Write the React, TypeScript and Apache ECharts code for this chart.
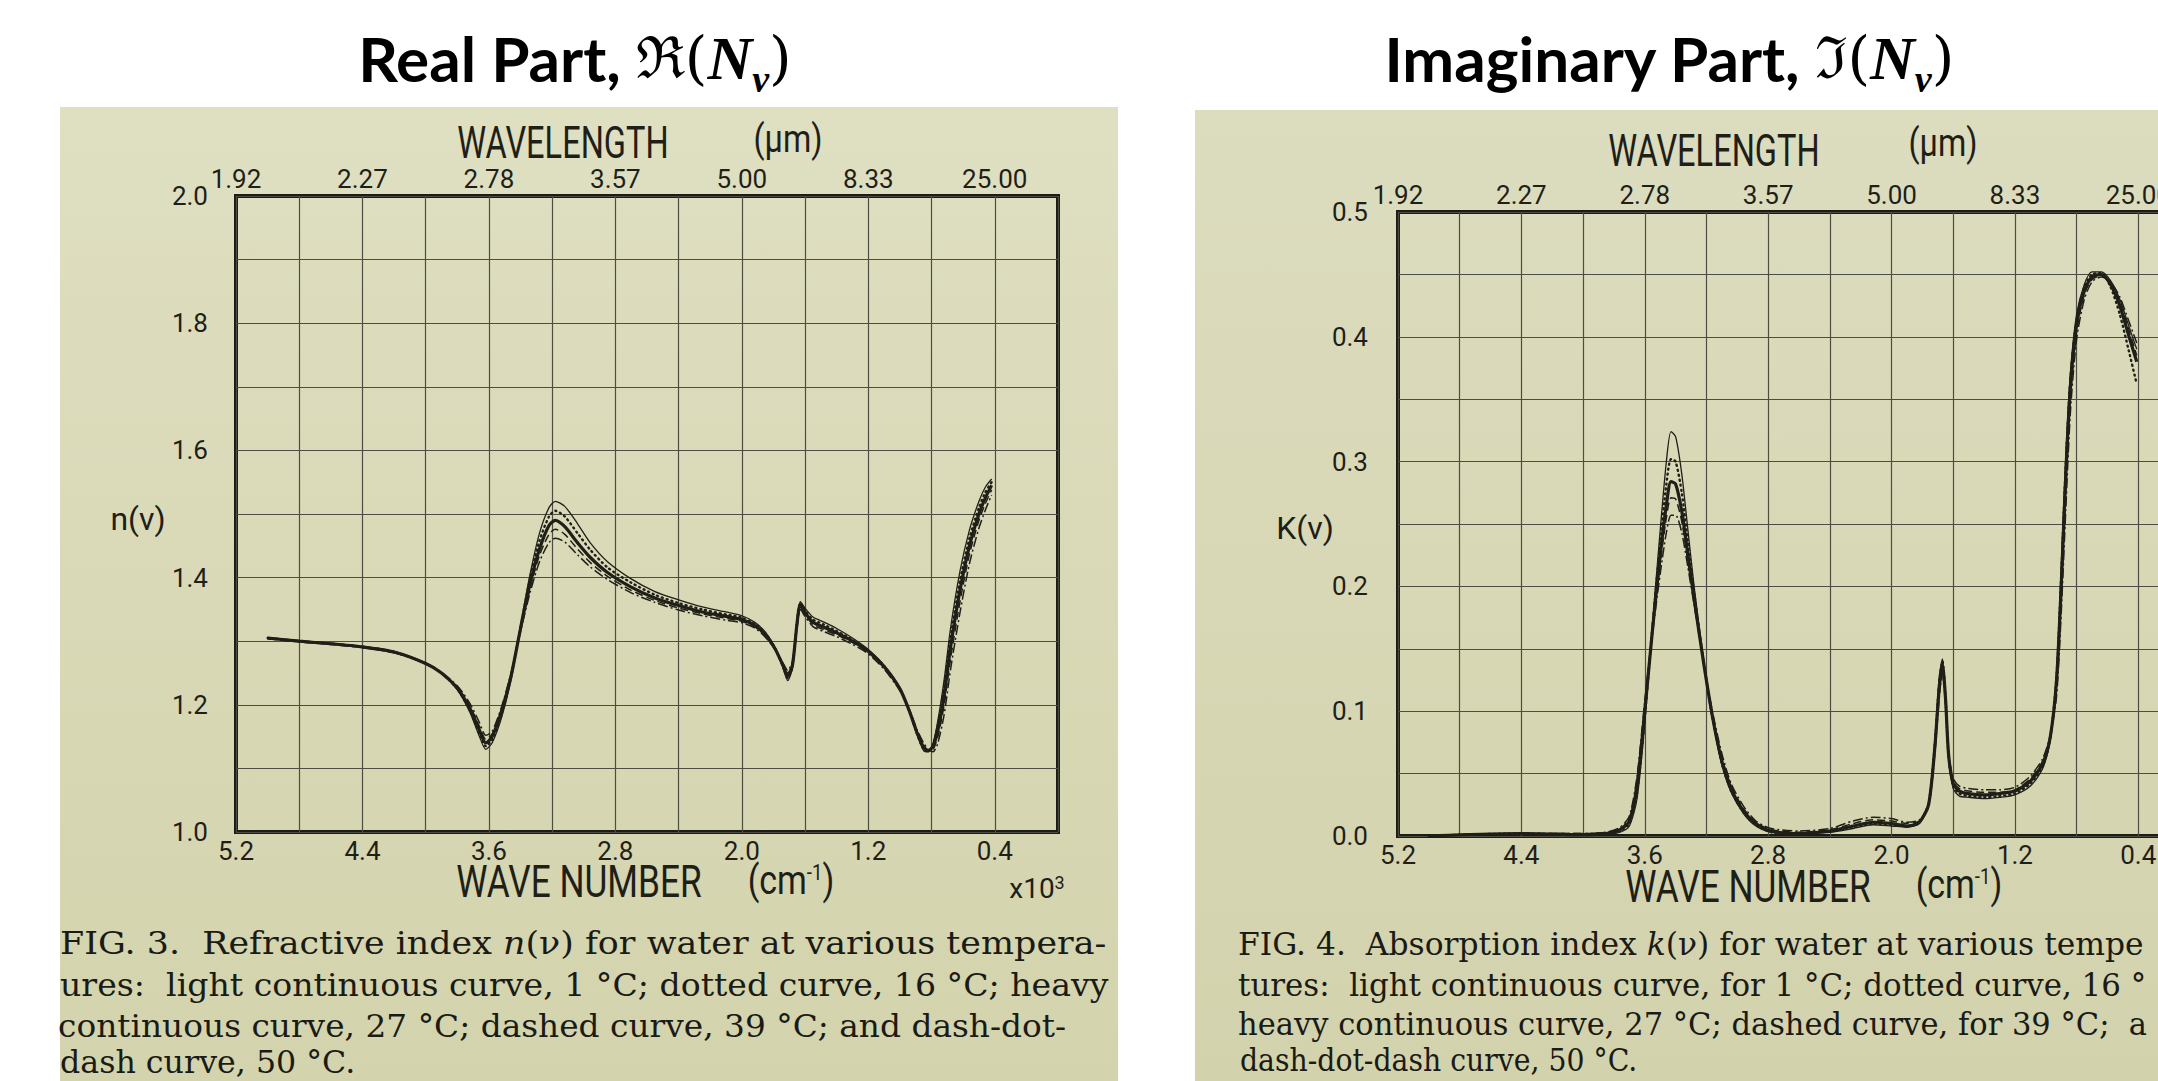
import React, { useEffect, useRef } from "react";
import * as echarts from "echarts";

const W = 2158;
const H = 1081;

// ---------- Real part n(ν): wave number (x10^3 cm^-1) ----------
const WN_N = [5.0, 4.8, 4.6, 4.4, 4.2, 4.0, 3.9, 3.8, 3.72, 3.66, 3.62, 3.58, 3.52, 3.46, 3.40, 3.34, 3.28, 3.22, 3.18, 3.12, 3.04, 2.96, 2.85, 2.7, 2.55, 2.4, 2.25, 2.1, 2.0, 1.92, 1.85, 1.79, 1.74, 1.71, 1.68, 1.65, 1.63, 1.60, 1.55, 1.48, 1.40, 1.30, 1.20, 1.10, 1.00, 0.94, 0.89, 0.85, 0.82, 0.79, 0.76, 0.72, 0.68, 0.62, 0.56, 0.50, 0.46, 0.42];
const N_1C = [1.306, 1.301, 1.297, 1.292, 1.284, 1.266, 1.250, 1.224, 1.188, 1.150, 1.130, 1.140, 1.180, 1.240, 1.325, 1.405, 1.470, 1.510, 1.520, 1.512, 1.485, 1.455, 1.425, 1.398, 1.378, 1.365, 1.354, 1.346, 1.340, 1.330, 1.314, 1.290, 1.258, 1.238, 1.258, 1.335, 1.362, 1.352, 1.338, 1.330, 1.320, 1.305, 1.287, 1.262, 1.226, 1.190, 1.152, 1.128, 1.126, 1.140, 1.175, 1.240, 1.320, 1.410, 1.475, 1.520, 1.542, 1.555];
const N_16C = [1.305, 1.300, 1.296, 1.291, 1.283, 1.265, 1.250, 1.225, 1.191, 1.155, 1.135, 1.145, 1.185, 1.243, 1.323, 1.398, 1.458, 1.496, 1.505, 1.496, 1.470, 1.444, 1.416, 1.392, 1.373, 1.360, 1.350, 1.342, 1.337, 1.327, 1.312, 1.289, 1.260, 1.242, 1.260, 1.333, 1.360, 1.348, 1.334, 1.326, 1.316, 1.302, 1.285, 1.261, 1.225, 1.190, 1.153, 1.130, 1.127, 1.138, 1.168, 1.228, 1.305, 1.395, 1.462, 1.510, 1.534, 1.550];
const N_27C = [1.305, 1.300, 1.296, 1.291, 1.283, 1.265, 1.250, 1.226, 1.194, 1.160, 1.140, 1.150, 1.190, 1.245, 1.320, 1.390, 1.445, 1.482, 1.490, 1.480, 1.455, 1.432, 1.408, 1.385, 1.368, 1.356, 1.346, 1.339, 1.334, 1.325, 1.310, 1.288, 1.262, 1.245, 1.262, 1.330, 1.358, 1.345, 1.330, 1.322, 1.313, 1.300, 1.284, 1.260, 1.225, 1.190, 1.155, 1.133, 1.128, 1.135, 1.160, 1.215, 1.290, 1.380, 1.450, 1.500, 1.525, 1.545];
const N_39C = [1.304, 1.299, 1.295, 1.290, 1.282, 1.265, 1.250, 1.228, 1.198, 1.166, 1.146, 1.154, 1.194, 1.248, 1.318, 1.383, 1.435, 1.468, 1.476, 1.468, 1.445, 1.424, 1.402, 1.380, 1.364, 1.352, 1.343, 1.336, 1.331, 1.323, 1.308, 1.288, 1.264, 1.250, 1.265, 1.326, 1.354, 1.342, 1.326, 1.318, 1.310, 1.298, 1.282, 1.258, 1.224, 1.191, 1.158, 1.137, 1.128, 1.130, 1.150, 1.200, 1.272, 1.362, 1.437, 1.490, 1.516, 1.538];
const N_50C = [1.304, 1.299, 1.295, 1.290, 1.282, 1.265, 1.251, 1.230, 1.202, 1.172, 1.152, 1.158, 1.197, 1.250, 1.315, 1.376, 1.425, 1.455, 1.462, 1.456, 1.436, 1.417, 1.397, 1.376, 1.361, 1.349, 1.340, 1.333, 1.329, 1.321, 1.306, 1.287, 1.266, 1.254, 1.268, 1.322, 1.350, 1.339, 1.323, 1.315, 1.307, 1.295, 1.280, 1.256, 1.222, 1.192, 1.160, 1.140, 1.130, 1.126, 1.140, 1.185, 1.255, 1.345, 1.422, 1.478, 1.506, 1.530];

// ---------- Imaginary part k(ν) ----------
const WN_K = [5.0, 4.8, 4.4, 4.0, 3.85, 3.76, 3.70, 3.65, 3.60, 3.55, 3.50, 3.46, 3.43, 3.40, 3.36, 3.32, 3.28, 3.22, 3.16, 3.10, 3.04, 2.96, 2.88, 2.78, 2.6, 2.4, 2.25, 2.12, 2.0, 1.90, 1.82, 1.76, 1.72, 1.69, 1.67, 1.65, 1.63, 1.60, 1.56, 1.50, 1.40, 1.30, 1.20, 1.10, 1.02, 0.97, 0.93, 0.90, 0.87, 0.84, 0.80, 0.75, 0.70, 0.64, 0.58, 0.52, 0.46, 0.41];
const K_1C = [0.000, 0.001, 0.002, 0.001, 0.001, 0.003, 0.008, 0.030, 0.090, 0.170, 0.245, 0.300, 0.324, 0.320, 0.290, 0.245, 0.200, 0.142, 0.093, 0.057, 0.035, 0.018, 0.008, 0.003, 0.002, 0.003, 0.006, 0.009, 0.008, 0.007, 0.010, 0.026, 0.075, 0.128, 0.142, 0.112, 0.062, 0.038, 0.032, 0.031, 0.030, 0.031, 0.033, 0.040, 0.054, 0.078, 0.130, 0.215, 0.305, 0.372, 0.418, 0.442, 0.452, 0.452, 0.445, 0.430, 0.408, 0.390];
const K_16C = [0.000, 0.001, 0.002, 0.001, 0.002, 0.004, 0.010, 0.035, 0.095, 0.168, 0.235, 0.282, 0.302, 0.300, 0.275, 0.235, 0.195, 0.141, 0.094, 0.058, 0.036, 0.019, 0.009, 0.003, 0.002, 0.004, 0.007, 0.010, 0.009, 0.008, 0.011, 0.026, 0.072, 0.124, 0.140, 0.111, 0.064, 0.040, 0.034, 0.032, 0.031, 0.032, 0.034, 0.042, 0.056, 0.079, 0.128, 0.208, 0.298, 0.366, 0.414, 0.440, 0.450, 0.451, 0.440, 0.418, 0.388, 0.362];
const K_27C = [0.000, 0.001, 0.002, 0.001, 0.002, 0.005, 0.012, 0.040, 0.100, 0.165, 0.225, 0.265, 0.284, 0.282, 0.260, 0.225, 0.190, 0.140, 0.095, 0.060, 0.038, 0.020, 0.010, 0.004, 0.002, 0.004, 0.008, 0.011, 0.010, 0.008, 0.011, 0.025, 0.070, 0.120, 0.137, 0.110, 0.065, 0.042, 0.036, 0.034, 0.033, 0.034, 0.036, 0.044, 0.058, 0.080, 0.125, 0.200, 0.290, 0.360, 0.410, 0.437, 0.448, 0.450, 0.442, 0.425, 0.400, 0.380];
const K_39C = [0.000, 0.001, 0.002, 0.002, 0.003, 0.006, 0.014, 0.045, 0.105, 0.165, 0.218, 0.255, 0.271, 0.270, 0.252, 0.220, 0.188, 0.140, 0.097, 0.063, 0.040, 0.022, 0.011, 0.005, 0.003, 0.005, 0.010, 0.013, 0.012, 0.010, 0.012, 0.025, 0.068, 0.116, 0.133, 0.108, 0.066, 0.044, 0.038, 0.036, 0.035, 0.035, 0.037, 0.046, 0.060, 0.080, 0.118, 0.188, 0.275, 0.350, 0.404, 0.434, 0.446, 0.449, 0.443, 0.428, 0.405, 0.385];
const K_50C = [0.000, 0.001, 0.002, 0.002, 0.003, 0.007, 0.016, 0.048, 0.108, 0.162, 0.210, 0.243, 0.257, 0.257, 0.243, 0.215, 0.185, 0.140, 0.099, 0.066, 0.042, 0.024, 0.012, 0.006, 0.004, 0.006, 0.012, 0.015, 0.014, 0.011, 0.013, 0.024, 0.065, 0.112, 0.130, 0.106, 0.067, 0.046, 0.040, 0.038, 0.037, 0.037, 0.039, 0.048, 0.062, 0.081, 0.112, 0.178, 0.262, 0.340, 0.398, 0.430, 0.444, 0.448, 0.444, 0.432, 0.412, 0.395];

// ---------- tick labels ----------
const WN_TICKS = [5.2, 4.4, 3.6, 2.8, 2.0, 1.2, 0.4];
const WN_LABELS = ["5.2", "4.4", "3.6", "2.8", "2.0", "1.2", "0.4"];
const WL_LABELS = ["1.92", "2.27", "2.78", "3.57", "5.00", "8.33", "25.00"];
const N_TICKS = [1.0, 1.2, 1.4, 1.6, 1.8, 2.0];
const N_LABELS = ["1.0", "1.2", "1.4", "1.6", "1.8", "2.0"];
const K_TICKS = [0.0, 0.1, 0.2, 0.3, 0.4, 0.5];
const K_LABELS = ["0.0", "0.1", "0.2", "0.3", "0.4", "0.5"];
const TEMPS = ["1 °C", "16 °C", "27 °C", "39 °C", "50 °C"];

const INK = "#1f1f18";
const GRIDC = "#4d4d43";
const AXIS_FONT = "Roboto, 'Liberation Sans', sans-serif";
const SERIF = "'DejaVu Serif', 'Liberation Serif', serif";
const TITLE_FONT = "Lato, 'Open Sans', sans-serif";

const LINE_STYLES: any[] = [
  { width: 1.3, type: "solid" },
  { width: 2.4, type: [1, 4], cap: "round" },
  { width: 3.2, type: "solid" },
  { width: 1.5, type: [8, 4] },
  { width: 1.5, type: [10, 3, 2, 3] },
];

function matchLabel(v: number, ticks: number[], labels: string[]) {
  for (let i = 0; i < ticks.length; i++) if (Math.abs(ticks[i] - v) < 1e-6) return labels[i];
  return "";
}

const labelBase = { color: INK, fontFamily: AXIS_FONT, fontWeight: 400, fontSize: 26 };

function xAxisBottom(grid: number) {
  return {
    type: "value", gridIndex: grid, position: "bottom", min: 0, max: 5.2, interval: 0.4, inverse: true,
    axisLine: { show: false }, axisTick: { show: false },
    splitLine: { show: true, lineStyle: { color: GRIDC, width: 1.2 } },
    axisLabel: { ...labelBase, margin: 6, formatter: (v: number) => matchLabel(v, WN_TICKS, WN_LABELS) },
  };
}
function xAxisTop(grid: number) {
  return {
    type: "value", gridIndex: grid, position: "top", min: 0, max: 5.2, interval: 0.4, inverse: true,
    axisLine: { show: false }, axisTick: { show: false }, splitLine: { show: false },
    axisLabel: { ...labelBase, margin: 4, formatter: (v: number) => matchLabel(v, WN_TICKS, WL_LABELS) },
  };
}

function txt(x: number, y: number, text: string, fontSize: number, extra: any = {}) {
  return {
    type: "text", x, y, silent: true,
    scaleX: extra.scaleX ?? 1,
    style: {
      text, fontSize, fontFamily: AXIS_FONT, fontWeight: 400, fill: INK,
      align: "center", verticalAlign: "middle", ...(extra.style || {}),
    },
  };
}

function title(x: number, y: number, words: string, sym: string) {
  return {
    type: "text", x, y, silent: true,
    style: {
      text: `{t|${words}}{m|${sym}(}{n|N}{s|ν}{m|)}`,
      align: "center", verticalAlign: "middle",
      rich: {
        t: { fontFamily: TITLE_FONT, fontWeight: "bold", fontSize: 62, lineHeight: 80, fill: "#000" },
        m: { fontFamily: SERIF, fontSize: 58, lineHeight: 80, fill: "#000" },
        n: { fontFamily: "'Liberation Serif', serif", fontStyle: "italic", fontWeight: "bold", fontSize: 62, lineHeight: 80, fill: "#000" },
        s: { fontFamily: "'Liberation Serif', serif", fontStyle: "italic", fontWeight: "bold", fontSize: 38, lineHeight: 38, verticalAlign: "bottom", fill: "#000" },
      },
    },
  };
}

const CAP_FS = 32;
function caption(x: number, y: number, text: string, scaleX: number) {
  return {
    type: "text", x, y, silent: true, scaleX,
    style: {
      text, fontFamily: SERIF, fontSize: CAP_FS, fill: "#1b1b15", verticalAlign: "middle", align: "left",
      rich: {
        i: { fontFamily: SERIF, fontStyle: "italic", fontSize: CAP_FS, fill: "#1b1b15" },
      },
    },
  };
}

function cmLabel(x: number, y: number) {
  return {
    type: "text", x, y, silent: true, scaleX: 0.85,
    style: {
      text: "(cm{sup|-1})", fontSize: 40, fontFamily: AXIS_FONT, fontWeight: 400, fill: INK,
      align: "center", verticalAlign: "middle",
      rich: { sup: { fontSize: 22, fontFamily: AXIS_FONT, fontWeight: 400, fill: INK, verticalAlign: "top", lineHeight: 40 } },
    },
  };
}

export default function App() {
  const ref = useRef<HTMLDivElement>(null);
  useEffect(() => {
    const chart = echarts.init(ref.current as HTMLDivElement, null, { renderer: "svg" });
    const nSets = [N_1C, N_16C, N_27C, N_39C, N_50C];
    const kSets = [K_1C, K_16C, K_27C, K_39C, K_50C];
    const series: any[] = [];
    nSets.forEach((vals, i) => {
      series.push({
        type: "line", name: "n " + TEMPS[i], xAxisIndex: 0, yAxisIndex: 0,
        data: WN_N.map((w, j) => [w, vals[j]]),
        showSymbol: false, smooth: 0.25, silent: true, z: i === 2 ? 6 : 4,
        lineStyle: { color: INK, ...LINE_STYLES[i] },
      });
    });
    kSets.forEach((vals, i) => {
      series.push({
        type: "line", name: "k " + TEMPS[i], xAxisIndex: 2, yAxisIndex: 1,
        data: WN_K.map((w, j) => [w, vals[j]]),
        showSymbol: false, smooth: 0.25, silent: true, z: i === 2 ? 6 : 4,
        lineStyle: { color: INK, ...LINE_STYLES[i] },
      });
    });

    const option: any = {
      animation: false,
      backgroundColor: "transparent",
      grid: [
        { left: 236, top: 196, width: 822, height: 636, show: true, borderColor: "#1c1c16", borderWidth: 4, backgroundColor: "transparent", outerBoundsMode: "none", containLabel: false },
        { left: 1398, top: 212, width: 802, height: 624, show: true, borderColor: "#1c1c16", borderWidth: 4, backgroundColor: "transparent", outerBoundsMode: "none", containLabel: false },
      ],
      xAxis: [xAxisBottom(0), xAxisTop(0), xAxisBottom(1), xAxisTop(1)],
      yAxis: [
        {
          type: "value", gridIndex: 0, min: 1.0, max: 2.0, interval: 0.1,
          axisLine: { show: false }, axisTick: { show: false },
          splitLine: { show: true, lineStyle: { color: GRIDC, width: 1.2 } },
          axisLabel: { ...labelBase, margin: 28, formatter: (v: number) => matchLabel(v, N_TICKS, N_LABELS) },
        },
        {
          type: "value", gridIndex: 1, min: 0, max: 0.5, interval: 0.05,
          axisLine: { show: false }, axisTick: { show: false },
          splitLine: { show: true, lineStyle: { color: GRIDC, width: 1.2 } },
          axisLabel: { ...labelBase, margin: 30, formatter: (v: number) => matchLabel(v, K_TICKS, K_LABELS) },
        },
      ],
      series,
      graphic: [
        title(575, 58, "Real Part, ", "ℜ"),
        title(1669, 58, "Imaginary Part, ", "ℑ"),
        // left panel axis names
        txt(563, 143, "WAVELENGTH", 44, { scaleX: 0.74 }),
        txt(788, 139, "(μm)", 38, { scaleX: 0.85 }),
        txt(579, 882, "WAVE NUMBER", 44, { scaleX: 0.8 }),
        cmLabel(791, 881),
        {
          type: "text", x: 1037, y: 888, silent: true,
          style: {
            text: "x10{sup|3}", fontSize: 28, fontFamily: AXIS_FONT, fontWeight: 400, fill: INK,
            align: "center", verticalAlign: "middle",
            rich: { sup: { fontSize: 18, fontFamily: AXIS_FONT, fontWeight: 400, fill: INK, verticalAlign: "top", lineHeight: 30 } },
          },
        },
        txt(138, 519, "n(ν)", 32),
        // right panel axis names
        txt(1714, 151, "WAVELENGTH", 44, { scaleX: 0.74 }),
        txt(1943, 143, "(μm)", 38, { scaleX: 0.85 }),
        txt(1748, 887, "WAVE NUMBER", 44, { scaleX: 0.8 }),
        cmLabel(1959, 885),
        txt(1305, 528, "K(ν)", 32),
        // captions (only the part visible in the photographed page)
        caption(60, 943, "FIG. 3.  Refractive index {i|n}(ν) for water at various tempera-", 1.09),
        caption(60, 985, "ures:  light continuous curve, 1 °C; dotted curve, 16 °C; heavy", 1.036),
        caption(58, 1026, "continuous curve, 27 °C; dashed curve, 39 °C; and dash-dot-", 1.026),
        caption(60, 1062, "dash curve, 50 °C.", 0.99),
        caption(1238, 944, "FIG. 4.  Absorption index {i|k}(ν) for water at various tempe", 0.98),
        caption(1238, 985, "tures:  light continuous curve, for 1 °C; dotted curve, 16 °", 0.965),
        caption(1238, 1024, "heavy continuous curve, 27 °C; dashed curve, for 39 °C;  a", 0.955),
        caption(1240, 1060, "dash-dot-dash curve, 50 °C.", 0.885),
      ],
    };
    chart.setOption(option);
    return () => chart.dispose();
  }, []);

  return (
    <div style={{ position: "fixed", left: 0, top: 0, width: W, height: H, background: "#ffffff", overflow: "hidden" }}>
      <div style={{ position: "absolute", left: 60, top: 107, width: 1058, height: 974, background: "linear-gradient(180deg, #dfdfc2 0%, #d9d9b7 50%, #d3d3ad 100%)" }} />
      <div style={{ position: "absolute", left: 1195, top: 110, width: 963, height: 971, background: "linear-gradient(180deg, #dcdcbf 0%, #d8d8b6 50%, #d2d2ad 100%)" }} />
      <div ref={ref} style={{ position: "absolute", left: 0, top: 0, width: W, height: H }} />
    </div>
  );
}
